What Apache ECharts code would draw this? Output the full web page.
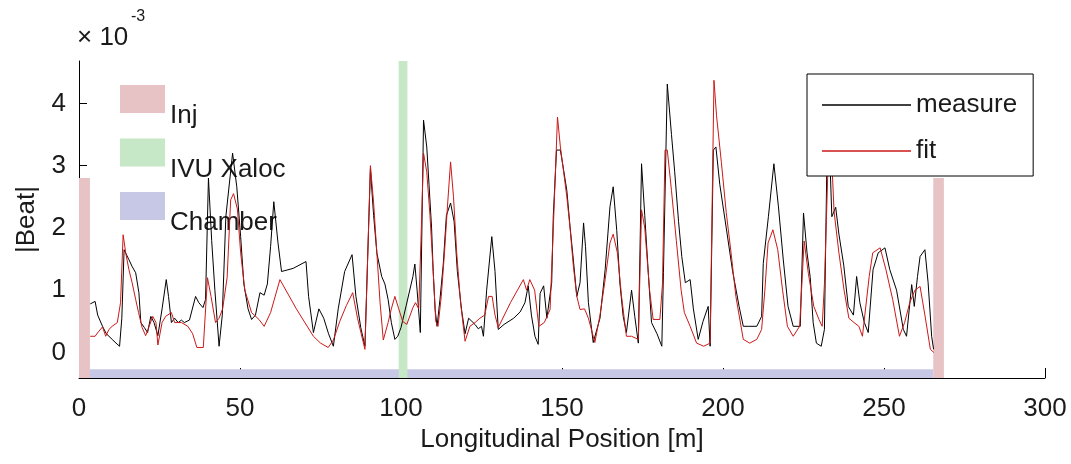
<!DOCTYPE html>
<html>
<head>
<meta charset="utf-8">
<script src="https://cdn.jsdelivr.net/npm/echarts@6/dist/echarts.min.js"></script>
<style>
  html, body { margin: 0; padding: 0; background: #fff; }
  #chart { width: 1071px; height: 464px; }
</style>
</head>
<body>
<div id="chart"></div>
<script>
// Beat amplitude along the ring, in units of 1e-3
const measurePos = [3.5,5.0,5.8,7.3,8.5,10.3,11.5,12.6,13.3,14.0,15.5,16.5,17.6,18.6,19.2,20.3,21.3,22.3,23.3,24.5,25.8,27.1,27.8,28.7,29.7,30.8,31.8,32.7,34.3,36.2,37.2,38.5,39.3,40.2,41.2,42.2,43.5,44.5,45.6,47.7,49.0,50.2,51.2,52.5,53.6,54.8,56.2,57.5,58.5,59.5,60.5,61.8,62.9,66.5,70.5,71.3,72.8,74.5,76.0,77.5,79.0,80.5,82.5,84.8,86.0,87.5,88.8,90.5,91.5,92.5,94.0,95.0,96.0,97.0,98.1,99.0,100.0,101.6,103.7,104.3,105.0,106.0,107.0,108.0,108.7,109.5,110.0,110.6,111.2,112.1,113.1,114.1,115.4,116.5,117.5,118.8,119.9,121.0,122.0,123.0,124.0,125.0,125.6,126.6,128.2,129.2,130.2,132.0,135.0,137.0,138.5,139.5,140.5,141.6,142.6,143.2,144.3,145.3,146.8,147.3,148.3,149.5,150.5,151.5,152.5,153.5,154.6,155.6,156.7,157.3,158.2,159.7,160.2,161.8,163.4,164.9,165.9,167.0,168.0,169.0,170.0,171.6,172.6,173.7,174.7,175.7,176.8,177.8,179.5,181.0,181.5,182.7,184.0,185.0,186.2,187.2,188.3,189.8,190.8,192.3,193.8,195.4,196.0,197.0,197.8,199.0,201.0,203.0,205.0,206.3,208.0,210.5,212.0,212.5,214.1,215.8,217.2,218.7,220.2,221.8,224.0,225.0,226.1,227.1,228.0,229.0,230.5,231.5,232.2,233.0,233.8,235.0,236.0,237.5,238.9,240.5,241.5,242.5,243.9,245.1,246.6,248.2,250.3,251.8,253.9,256.0,257.0,258.6,259.4,260.4,261.2,262.7,263.7,264.8,265.4];
const measureVal = [0.78,0.82,0.6,0.42,0.3,0.21,0.15,0.1,0.55,1.65,1.49,1.38,1.28,0.96,0.48,0.4,0.32,0.58,0.48,0.27,0.7,1.17,0.9,0.48,0.55,0.48,0.52,0.48,0.52,0.9,0.8,0.72,0.85,2.8,1.8,1.0,0.1,0.6,2.18,3.2,2.66,1.86,1.1,0.7,0.53,0.6,0.96,0.92,1.1,1.7,2.42,1.76,1.3,1.35,1.46,0.9,0.32,0.7,0.55,0.3,0.1,0.7,1.3,1.57,0.9,0.4,0.1,2.95,2.2,1.6,1.22,1.1,0.85,0.48,0.21,0.26,0.4,0.75,1.22,1.42,1.0,0.32,3.73,3.3,2.7,2.0,1.3,0.69,0.42,0.85,1.4,2.2,2.4,2.1,1.3,0.69,0.3,0.55,0.5,0.45,0.38,0.42,0.26,1.0,1.86,1.3,0.37,0.45,0.55,0.65,0.8,1.07,0.6,0.26,0.13,0.95,1.07,0.55,1.12,2.2,3.25,3.25,2.93,2.6,2.02,1.5,0.9,1.12,2.08,1.7,0.8,0.16,0.13,0.55,1.33,2.34,2.66,1.96,1.1,0.58,0.32,1.0,0.58,0.15,3.03,2.2,1.28,0.48,0.3,0.1,1.28,4.31,3.5,2.9,2.1,1.54,1.12,1.17,0.7,0.21,0.5,0.74,0.1,3.25,3.3,2.7,2.0,1.3,0.74,0.42,0.42,0.42,0.58,1.43,2.18,3.03,2.35,1.5,0.74,0.42,0.42,2.24,1.6,1.2,0.48,0.15,0.1,0.37,2.82,3.4,2.18,2.33,1.9,1.4,0.74,0.6,1.22,0.8,0.48,0.32,1.33,1.6,1.68,1.33,1.0,0.37,0.26,1.09,0.74,1.22,1.54,1.65,1.12,0.26,0.05];

const fitPos = [3.5,5.0,6.0,7.3,8.3,9.3,10.3,11.9,12.9,13.7,14.5,15.5,16.5,17.6,18.5,19.6,20.7,21.8,22.9,23.9,24.5,25.8,26.9,28.7,29.7,31.8,33.8,35.3,36.6,38.6,39.9,41.0,42.4,43.5,44.6,46.0,47.1,48.0,49.2,50.2,51.5,53.6,55.9,57.5,59.5,62.4,67.5,72.8,75.0,77.4,79.0,81.0,83.0,85.0,86.5,88.8,90.5,91.5,92.5,93.5,94.5,96.0,97.0,98.1,99.3,100.5,101.8,103.7,104.5,105.5,106.2,107.0,108.0,109.0,110.0,110.8,111.5,112.5,113.5,114.5,115.4,116.3,117.3,118.5,119.9,121.4,123.0,124.5,126.0,127.2,128.3,129.2,130.2,134.0,138.0,139.0,140.0,141.5,142.8,144.5,146.3,147.3,148.6,149.5,150.5,151.5,152.5,153.5,154.6,155.6,157.0,158.2,159.7,160.2,161.8,163.4,164.9,165.9,167.2,168.5,170.0,171.6,173.7,174.7,175.7,177.2,178.3,180.4,181.2,182.0,182.7,184.0,185.5,187.0,188.0,189.8,191.8,194.0,196.0,197.2,198.0,199.5,201.0,202.5,204.0,206.3,208.3,210.5,212.0,213.0,214.0,215.5,217.0,218.5,220.0,221.8,223.8,225.2,226.5,228.2,229.8,230.8,231.5,232.5,233.5,234.5,236.0,237.6,239.1,240.7,242.2,243.3,245.4,246.5,248.8,250.6,252.7,254.8,256.4,258.0,259.6,261.2,262.7,264.4,265.5];
const fitVal = [0.26,0.26,0.33,0.41,0.26,0.37,0.42,0.48,0.8,1.89,1.6,1.33,1.12,0.85,0.64,0.4,0.27,0.42,0.58,0.48,0.12,0.48,0.58,0.64,0.48,0.48,0.42,0.3,0.08,0.08,1.2,0.9,0.48,0.55,0.7,1.2,2.45,2.55,2.3,1.6,1.0,0.64,0.53,0.42,0.64,1.17,0.7,0.26,0.15,0.08,0.2,0.5,0.75,0.96,0.55,0.05,3.0,2.4,1.6,0.8,0.2,0.48,0.7,0.9,0.7,0.5,0.45,0.72,0.8,0.7,1.8,3.2,2.9,2.2,1.3,0.5,0.42,0.9,1.6,2.4,3.06,2.5,1.6,0.8,0.18,0.42,0.48,0.55,0.6,0.9,0.9,0.6,0.4,0.8,1.17,1.0,1.17,1.0,0.42,0.48,0.69,2.0,3.78,3.3,2.9,2.5,2.0,1.4,0.9,0.69,0.7,0.55,0.26,0.16,0.6,1.17,1.76,1.9,1.6,0.9,0.26,0.26,0.21,2.29,2.0,1.0,0.53,0.53,1.1,3.25,3.25,2.6,1.8,1.0,0.64,0.42,0.15,0.1,0.15,4.37,3.8,3.05,2.25,1.6,0.9,0.21,0.15,0.21,0.37,1.0,1.76,1.97,1.65,1.0,0.42,0.26,0.42,1.79,1.27,0.74,0.53,0.42,1.1,2.8,3.4,2.26,1.6,1.0,0.55,0.48,0.42,0.26,1.22,1.6,1.68,1.33,0.85,0.26,0.48,0.8,1.0,1.06,0.6,0.05,0.0];

// Machine regions: [start, end] along the ring in m, with the beat range they span
const injRegions = [[0, 3.4], [265.3, 268.6]];
const injTop = 2.8;
const ivuRegions = [[99.3, 102.0]];
const chamberRegions = [[0, 265.3]];
const chamberTop = -0.27;

const xTicks = [0, 50, 100, 150, 200, 250, 300];
const yTicks = [0, 1, 2, 3, 4];
const yMin = -0.41, yMax = 4.68;

const FONT = 'Liberation Sans';
const INK = '#1a1a1a';

function pairs(xs, ys) { return xs.map((x, i) => [x, ys[i]]); }
function boxes(regions, lo, hi) { return regions.map(r => [r[0], r[1], lo, hi]); }

function rectItem(params, api) {
  const p0 = api.coord([api.value(0), api.value(3)]);
  const p1 = api.coord([api.value(1), api.value(2)]);
  return {
    type: 'rect',
    shape: { x: p0[0], y: p0[1], width: p1[0] - p0[0], height: p1[1] - p0[1] },
    style: { fill: api.visual('color') }
  };
}

function patchSeries(name, color, data) {
  return {
    name, type: 'custom', renderItem: rectItem, z: 2, silent: true,
    itemStyle: { color }, encode: { x: [0, 1], y: [2, 3] }, data
  };
}

const chart = echarts.init(document.getElementById('chart'), null, { renderer: 'canvas' });
chart.setOption({
  animation: false,
  backgroundColor: '#fff',
  textStyle: { fontFamily: FONT },
  grid: { left: 79, right: 26, top: 61, bottom: 86 },
  xAxis: {
    type: 'value', min: 0, max: 300, interval: 50,
    name: 'Longitudinal Position [m]', nameLocation: 'middle', nameGap: 49,
    nameTextStyle: { fontFamily: FONT, fontSize: 26, color: INK },
    axisLine: { onZero: false, lineStyle: { color: '#000', width: 1 } },
    axisTick: { inside: true, length: 10, lineStyle: { color: '#000' }, customValues: xTicks },
    axisLabel: { fontFamily: FONT, fontSize: 26, color: INK, margin: 18, customValues: xTicks },
    splitLine: { show: false }
  },
  yAxis: {
    type: 'value', min: yMin, max: yMax,
    name: '|Beat|', nameLocation: 'middle', nameRotate: 90, nameGap: 39,
    nameTextStyle: { fontFamily: FONT, fontSize: 26, color: INK },
    axisLine: { show: true, onZero: false, lineStyle: { color: '#000', width: 1 } },
    axisTick: { show: true, inside: true, length: 8, lineStyle: { color: '#000' }, customValues: yTicks },
    axisLabel: { fontFamily: FONT, fontSize: 26, color: INK, margin: 13, customValues: yTicks },
    splitLine: { show: false }
  },
  legend: [
    {
      data: ['Inj', 'IVU Xaloc', 'Chamber'],
      left: 120, top: 65, orient: 'vertical', padding: 0,
      icon: 'rect', itemWidth: 45, itemHeight: 28, itemGap: -14.5,
      selectedMode: false, z: 1,
      formatter: name => '\n' + name,
      textStyle: { fontFamily: FONT, fontSize: 26, color: INK, lineHeight: 34 }
    },
    {
      data: [{ name: 'measure', icon: 'rect' }, { name: 'fit', icon: 'rect' }],
      left: 807, top: 74, orient: 'vertical',
      padding: [18, 16, 12, 15],
      itemWidth: 89, itemHeight: 1.5, itemGap: 20,
      backgroundColor: '#fff', borderColor: '#000', borderWidth: 1,
      selectedMode: false, z: 6,
      textStyle: { fontFamily: FONT, fontSize: 26, color: INK, lineHeight: 26 }
    }
  ],
  graphic: [
    { type: 'text', left: 77, top: 25, z: 10,
      style: { text: '× 10', font: '26px "Liberation Sans"', fill: INK } },
    { type: 'text', left: 131, top: 9, z: 10,
      style: { text: '-3', font: '16px "Liberation Sans"', fill: INK } }
  ],
  series: [
    patchSeries('Chamber', '#c7c7e6', boxes(chamberRegions, yMin, chamberTop)),
    patchSeries('Inj', '#e8c3c5', boxes(injRegions, yMin, injTop)),
    patchSeries('IVU Xaloc', '#c6e8c6', boxes(ivuRegions, yMin, yMax)),
    {
      name: 'measure', type: 'line', z: 3, symbol: 'none', showSymbol: false,
      lineStyle: { color: '#000', width: 1 }, itemStyle: { color: '#000' },
      data: pairs(measurePos, measureVal)
    },
    {
      name: 'fit', type: 'line', z: 4, symbol: 'none', showSymbol: false,
      lineStyle: { color: '#cc1818', width: 1 }, itemStyle: { color: '#cc1818' },
      data: pairs(fitPos, fitVal)
    }
  ]
});
</script>
</body>
</html>
